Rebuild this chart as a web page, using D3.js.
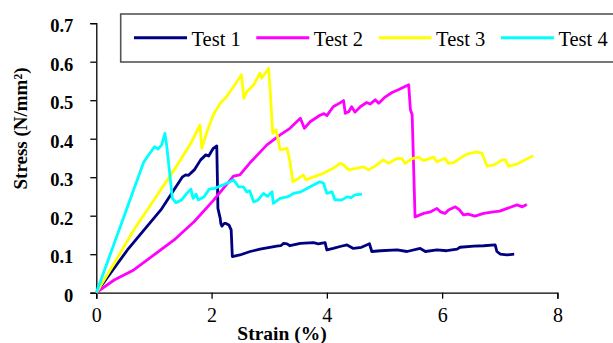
<!DOCTYPE html>
<html><head><meta charset="utf-8">
<script src="https://cdn.jsdelivr.net/npm/d3@7/dist/d3.min.js"></script>
<style>body{margin:0;background:#fff}svg{display:block}
svg text{font-family:"Liberation Serif","Times New Roman",Times,Tinos,"Noto Serif","FreeSerif","Nimbus Roman","DejaVu Serif",serif;}</style>
</head><body>
<svg id="chart" width="613" height="343"></svg>
<script>
const seriesNames = ["Test 1", "Test 2", "Test 3", "Test 4"];
const seriesColors = ["#000080", "#FF00FF", "#FFFF00", "#00FFFF"];
const xTicks = [0, 2, 4, 6, 8];
const yTicks = [0, 0.1, 0.2, 0.3, 0.4, 0.5, 0.6, 0.7];

const test1 = [[0,0],[0.54,0.111],[1.12,0.215],[1.49,0.30],[1.55,0.306],[1.60,0.305],[1.70,0.319],[1.81,0.345],[1.90,0.358],[1.95,0.355],[2.03,0.375],[2.09,0.381],[2.10,0.301],[2.11,0.219],[2.15,0.193],[2.16,0.180],[2.18,0.173],[2.22,0.180],[2.25,0.180],[2.30,0.176],[2.34,0.163],[2.36,0.094],[2.49,0.098],[2.67,0.107],[2.84,0.113],[3.01,0.118],[3.13,0.121],[3.20,0.122],[3.25,0.128],[3.31,0.127],[3.36,0.122],[3.54,0.128],[3.77,0.13],[3.85,0.127],[3.97,0.13],[4.00,0.111],[4.11,0.115],[4.23,0.12],[4.35,0.124],[4.46,0.115],[4.60,0.118],[4.74,0.127],[4.78,0.107],[4.93,0.109],[5.22,0.111],[5.39,0.107],[5.62,0.115],[5.71,0.107],[5.91,0.111],[6.08,0.109],[6.26,0.113],[6.31,0.118],[6.55,0.121],[6.72,0.122],[6.92,0.124],[6.95,0.107],[7.01,0.10],[7.12,0.098],[7.25,0.10]];
const test2 = [[0,0],[0.31,0.033],[0.65,0.059],[1.0,0.098],[1.35,0.137],[1.70,0.185],[2.04,0.241],[2.38,0.303],[2.49,0.306],[2.67,0.338],[2.96,0.384],[3.19,0.41],[3.36,0.427],[3.54,0.453],[3.61,0.427],[3.71,0.444],[3.88,0.461],[3.95,0.465],[4.0,0.46],[4.11,0.483],[4.17,0.488],[4.29,0.499],[4.32,0.466],[4.38,0.47],[4.43,0.483],[4.49,0.469],[4.58,0.483],[4.69,0.494],[4.75,0.49],[4.84,0.501],[4.90,0.492],[5.01,0.508],[5.13,0.52],[5.24,0.527],[5.42,0.54],[5.45,0.475],[5.48,0.462],[5.53,0.197],[5.68,0.206],[5.80,0.21],[5.91,0.219],[5.97,0.21],[6.05,0.206],[6.11,0.215],[6.23,0.223],[6.30,0.215],[6.37,0.202],[6.45,0.204],[6.57,0.199],[6.72,0.206],[6.89,0.21],[7.0,0.212],[7.13,0.219],[7.30,0.228],[7.39,0.223],[7.47,0.229]];
const test3 = [[0,0],[0.31,0.076],[0.65,0.163],[1.0,0.241],[1.35,0.319],[1.64,0.388],[1.80,0.436],[1.83,0.375],[1.92,0.418],[2.03,0.462],[2.15,0.492],[2.26,0.509],[2.38,0.535],[2.52,0.566],[2.56,0.505],[2.61,0.522],[2.73,0.54],[2.84,0.57],[2.87,0.557],[2.99,0.583],[3.02,0.518],[3.06,0.414],[3.12,0.423],[3.19,0.371],[3.31,0.375],[3.36,0.34],[3.41,0.288],[3.51,0.297],[3.59,0.306],[3.64,0.293],[3.77,0.301],[3.94,0.31],[4.11,0.323],[4.23,0.336],[4.29,0.332],[4.38,0.319],[4.50,0.323],[4.64,0.327],[4.72,0.319],[4.85,0.33],[4.98,0.345],[5.07,0.336],[5.22,0.349],[5.30,0.348],[5.36,0.336],[5.48,0.348],[5.59,0.352],[5.68,0.343],[5.85,0.352],[5.91,0.340],[6.05,0.349],[6.11,0.336],[6.20,0.338],[6.31,0.349],[6.43,0.36],[6.60,0.366],[6.69,0.362],[6.78,0.329],[6.90,0.332],[7.04,0.345],[7.10,0.345],[7.15,0.329],[7.30,0.334],[7.44,0.345],[7.58,0.356]];
const test4 = [[0,0],[0.82,0.338],[0.885,0.353],[1.01,0.379],[1.07,0.373],[1.135,0.384],[1.19,0.414],[1.22,0.384],[1.28,0.301],[1.32,0.245],[1.38,0.234],[1.48,0.241],[1.57,0.258],[1.64,0.269],[1.68,0.245],[1.73,0.256],[1.77,0.241],[1.87,0.249],[1.96,0.269],[2.06,0.271],[2.1,0.274],[2.2,0.28],[2.38,0.293],[2.47,0.275],[2.55,0.275],[2.61,0.262],[2.66,0.265],[2.73,0.236],[2.80,0.24],[2.90,0.258],[2.97,0.25],[3.05,0.262],[3.07,0.232],[3.19,0.245],[3.31,0.249],[3.36,0.252],[3.42,0.258],[3.55,0.262],[3.71,0.275],[3.88,0.288],[3.94,0.285],[4.0,0.258],[4.09,0.262],[4.14,0.241],[4.26,0.241],[4.35,0.249],[4.42,0.247],[4.49,0.254],[4.61,0.256]];
const allSeries = [test1, test2, test3, test4];

const svg = d3.select("#chart");
const x = d3.scaleLinear().domain([0, 8]).range([96.3, 557.4]);
const y = d3.scaleLinear().domain([0, 0.7]).range([292.7, 23.2]);

// X axis
const gx = svg.append("g").attr("transform", `translate(0,${y(0)})`)
  .call(d3.axisBottom(x).tickValues(xTicks).tickFormat(d3.format("d")).tickSizeOuter(0).tickSize(6).tickPadding(9));
gx.attr("font-family", null);
gx.select(".domain").attr("stroke", "#000").attr("stroke-width", 1.3);
gx.selectAll(".tick line").attr("stroke", "#000").attr("stroke-width", 1.3);
gx.selectAll(".tick text").attr("font-size", 20).attr("fill", "#000");

// Y axis
const gy = svg.append("g").attr("transform", `translate(${x(0)},0)`)
  .call(d3.axisLeft(y).tickValues(yTicks).tickFormat(d => d === 0 ? "0" : d3.format(".1f")(d)).tickSizeOuter(0).tickSize(6).tickPadding(17));
gy.attr("font-family", null);
gy.select(".domain").attr("stroke", "#000").attr("stroke-width", 1.3);
gy.selectAll(".tick line").attr("stroke", "#000").attr("stroke-width", 1.3);
gy.selectAll(".tick text").attr("font-size", 18.5).attr("font-weight", "bold").attr("fill", "#000").attr("dy", "0.45em");

// Axis titles
svg.append("text").attr("x", 282).attr("y", 340).attr("text-anchor", "middle")
  .attr("font-size", 19.5).attr("font-weight", "bold").text("Strain (%)");
svg.append("text").attr("transform", "translate(27,128.5) rotate(-90)").attr("text-anchor", "middle")
  .attr("font-size", 19).attr("font-weight", "bold").text("Stress (N/mm²)");

// Lines
const line = d3.line().x(d => x(d[0])).y(d => y(d[1]));
svg.append("g").selectAll("path").data(allSeries).join("path")
  .attr("d", line).attr("fill", "none")
  .attr("stroke", (d, i) => seriesColors[i]).attr("stroke-width", 2.8)
  .attr("stroke-linejoin", "round");

// Legend
const lg = svg.append("g");
lg.append("rect").attr("x", 120.7).attr("y", 14).attr("width", 520).attr("height", 48)
  .attr("fill", "#fff").attr("stroke", "#555").attr("stroke-width", 1.6);
const items = lg.selectAll("g.item").data(seriesNames).join("g").attr("class", "item")
  .attr("transform", (d, i) => `translate(${134 + i * 122.3},0)`);
items.append("line").attr("x1", 0).attr("x2", 53).attr("y1", 37.7).attr("y2", 37.7)
  .attr("stroke", (d, i) => seriesColors[i]).attr("stroke-width", 3);
items.append("text").attr("x", 57.5).attr("y", 46).attr("font-size", 20.5)
  .attr("fill", "#000").text(d => d);
</script>
</body></html>
